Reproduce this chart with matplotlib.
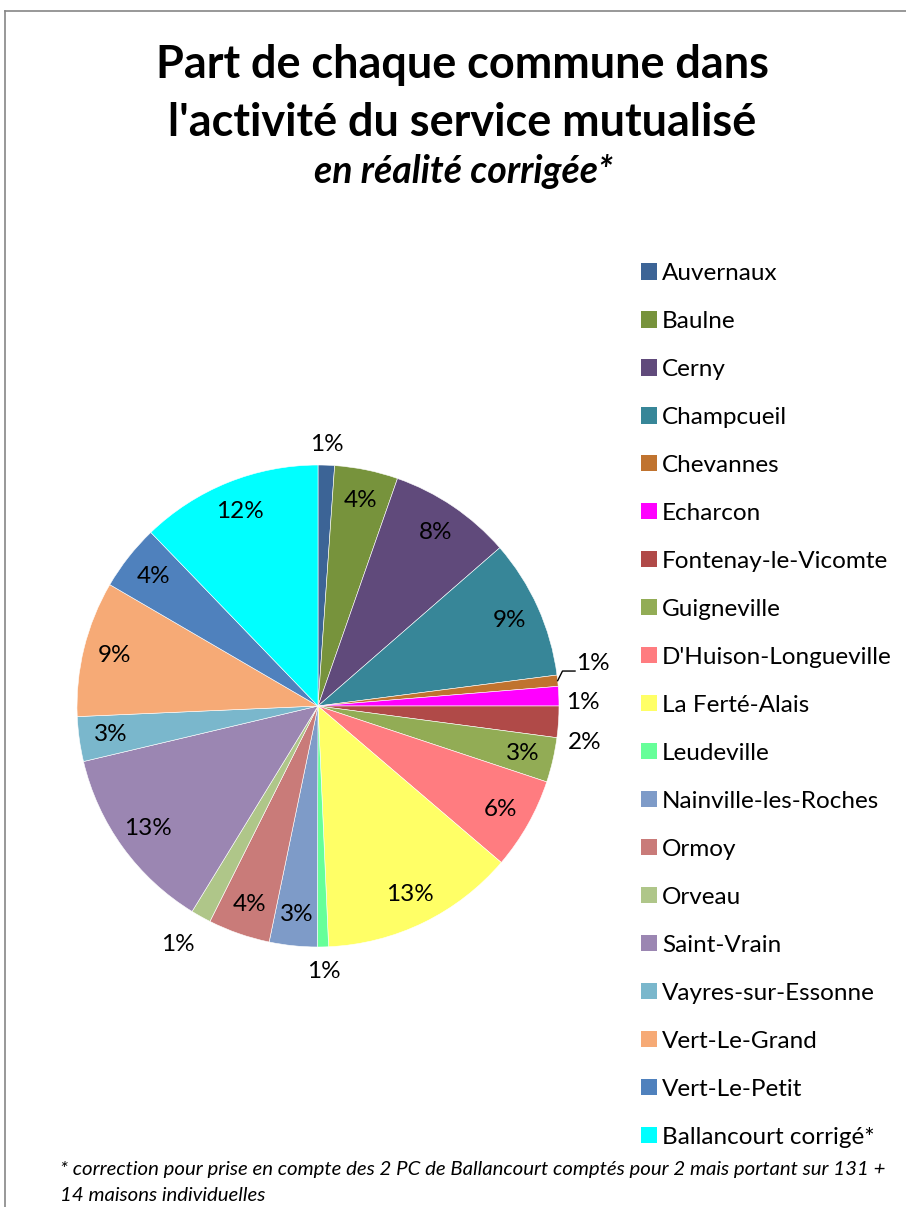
import numpy as np
import matplotlib
matplotlib.use("Agg")
import matplotlib.pyplot as plt
from matplotlib.lines import Line2D

plt.rcParams['font.family'] = ['Lato', 'DejaVu Sans']

communes = ["Auvernaux", "Baulne", "Cerny", "Champcueil", "Chevannes", "Echarcon",
            "Fontenay-le-Vicomte", "Guigneville", "D'Huison-Longueville", "La Ferté-Alais",
            "Leudeville", "Nainville-les-Roches", "Ormoy", "Orveau", "Saint-Vrain",
            "Vayres-sur-Essonne", "Vert-Le-Grand", "Vert-Le-Petit", "Ballancourt corrigé*"]
parts = [1.1, 4.25, 8.25, 9.35, 0.75, 1.3, 2.1, 3.0, 6.15, 13.05,
         0.75, 3.2, 4.15, 1.35, 12.55, 3.0, 9.1, 4.4, 12.2]
couleurs = ["#3C6496", "#77933C", "#604A7B", "#378698", "#C0732F", "#FF00FF",
            "#B04A48", "#92AC55", "#FF7C80", "#FFFF66", "#66FF99", "#7E9BC8",
            "#C97B79", "#AFC689", "#9B86B2", "#7AB7CC", "#F6AA76", "#4F81BD", "#00FFFF"]

# small slices get their label outside, some nudged like excel does
outside_nudge = {"Auvernaux": (0, -0.016), "Chevannes": (0.047, 0.062), "Echarcon": (0, -0.03),
                 "Fontenay-le-Vicomte": (0.01, -0.079), "Leudeville": (0, 0), "Orveau": (-0.049, -0.027)}

W, H = 906, 1207
fig = plt.figure(figsize=(W/100, H/100), dpi=100)

# pie axes: center (318, 706) px, radius 241 px
cx, cy, R = 318, 706, 241
ax = fig.add_axes([(cx-R)/W, (H-cy-R)/H, 2*R/W, 2*R/H])
wedges, texts, autotexts = ax.pie(parts, colors=couleurs, startangle=90, counterclock=False,
                                  autopct='%.0f%%', pctdistance=0.87, radius=1,
                                  wedgeprops=dict(edgecolor='white', linewidth=0.4),
                                  textprops=dict(fontsize=17.5, color='black'))
ax.set_xlim(-1, 1)
ax.set_ylim(-1, 1)
ax.axis('off')

for name, w, t in zip(communes, wedges, autotexts):
    if name in outside_nudge:
        mid = np.deg2rad((w.theta1 + w.theta2) / 2)
        dx, dy = outside_nudge[name]
        x, y = 1.1*np.cos(mid) + dx, 1.1*np.sin(mid) + dy
        t.set_position((x, y))
        if name == "Chevannes":
            p0 = (np.cos(mid), np.sin(mid))
            p1 = (p0[0] + 0.02, p0[1] + 0.04)
            p2 = (p1[0] + 0.052, p1[1])
            ax.plot([p0[0], p1[0], p2[0]], [p0[1], p1[1], p2[1]], color='black', lw=1, clip_on=False)

# titles
fig.text(463/W, 1-78/H, "Part de chaque commune dans", ha='center', va='baseline',
         fontsize=32.4, fontweight='bold')
fig.text(462/W, 1-136/H, "l'activité du service mutualisé", ha='center', va='baseline',
         fontsize=32.4, fontweight='bold')
fig.text(463/W, 1-183/H, "en réalité corrigée*", ha='center', va='baseline',
         fontsize=27, fontweight='bold', fontstyle='italic')

# legend
leg = fig.legend(wedges, communes, loc='upper left', bbox_to_anchor=(641/W, 1-263/H),
                 frameon=False, fontsize=17.5, handlelength=0.65, handleheight=0.65,
                 handletextpad=0.22, labelspacing=1.11, borderpad=0, borderaxespad=0)
for h in leg.legend_handles:
    h.set_edgecolor('none')

# footnote
fig.text(60/W, 1-1175/H, "* correction pour prise en compte des 2 PC de Ballancourt comptés pour 2 mais portant sur 131 +",
         ha='left', va='baseline', fontsize=14.7, fontstyle='italic')
fig.text(60/W, 1-1201/H, "14 maisons individuelles", ha='left', va='baseline',
         fontsize=14.7, fontstyle='italic')

# chart border (top and left visible)
fig.add_artist(Line2D([5/W, 5/W], [0, 1-11/H], transform=fig.transFigure, color='#868686', lw=1.2))
fig.add_artist(Line2D([5/W, 1], [1-11/H, 1-11/H], transform=fig.transFigure, color='#868686', lw=1.2))

fig.savefig("out.png", dpi=100)
